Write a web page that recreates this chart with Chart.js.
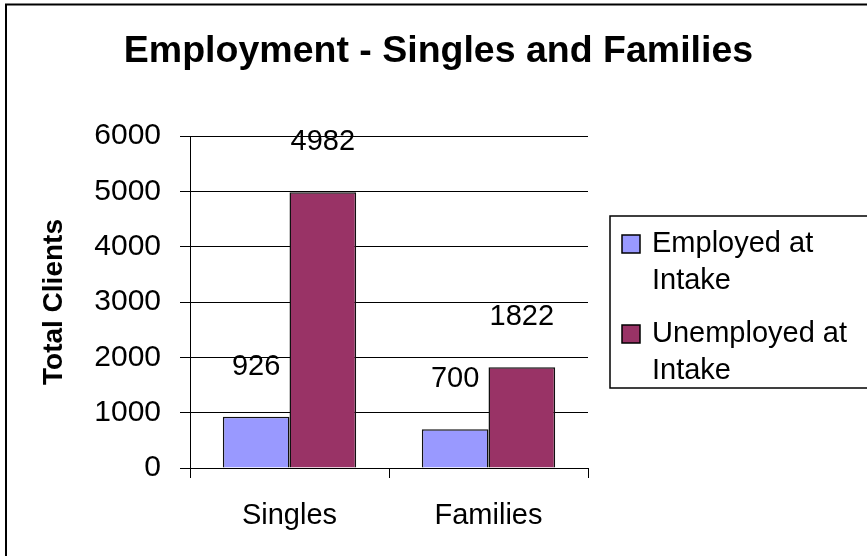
<!DOCTYPE html>
<html>
<head>
<meta charset="utf-8">
<title>Employment - Singles and Families</title>
<script src="https://cdn.jsdelivr.net/npm/chart.js@4.4.0/dist/chart.umd.min.js"></script>
<style>
    html, body { margin: 0; padding: 0; background: #fff; }
    canvas { display: block; }
</style>
</head>
<body>
<canvas id="employmentChart" width="867" height="556"></canvas>
<script>
        // Chart data
        const chartTitle = 'Employment - Singles and Families';
        const categories = ['Singles', 'Families'];
        const employedAtIntake = [926, 700];
        const unemployedAtIntake = [4982, 1822];
        const seriesNames = [['Employed at', 'Intake'], ['Unemployed at', 'Intake']];
        const yTicks = [0, 1000, 2000, 3000, 4000, 5000, 6000];

        const FONT = '"Liberation Sans", Arial, Helvetica, sans-serif';
        Chart.defaults.font.family = FONT;
        Chart.defaults.color = '#000';

        // White background, outer frame and the centred title
        const framePlugin = {
            id: 'frame',
            beforeDraw(chart) {
                const ctx = chart.ctx;
                ctx.save();
                ctx.fillStyle = '#fff';
                ctx.fillRect(0, 0, chart.width, chart.height);
                ctx.strokeStyle = '#000';
                ctx.lineWidth = 2;
                ctx.strokeRect(6, 4.5, chart.width + 20, chart.height + 20);
                ctx.font = 'bold 37.5px ' + FONT;
                ctx.fillStyle = '#000';
                ctx.textAlign = 'center';
                ctx.textBaseline = 'alphabetic';
                ctx.fillText(chartTitle, chart.width / 2 + 5, 62);
                ctx.restore();
            }
        };

        // Value labels floating above each bar
        const valueLabels = {
            id: 'valueLabels',
            afterDatasetsDraw(chart) {
                const ctx = chart.ctx;
                ctx.save();
                ctx.font = '29px ' + FONT;
                ctx.fillStyle = '#000';
                ctx.textAlign = 'center';
                ctx.textBaseline = 'middle';
                chart.data.datasets.forEach((ds, i) => {
                    chart.getDatasetMeta(i).data.forEach((bar, j) => {
                        ctx.fillText(String(ds.data[j]), bar.x, bar.y - 50);
                    });
                });
                ctx.restore();
            }
        };

        // Boxed legend on the right, with wrapped labels
        const sideLegend = {
            id: 'sideLegend',
            afterDraw(chart) {
                const ctx = chart.ctx;
                const area = chart.chartArea;
                const left = area.right + 22;
                const top = area.top + 80;
                ctx.save();
                ctx.strokeStyle = '#000';
                ctx.lineWidth = 1.5;
                ctx.strokeRect(left, top, chart.width, 172);
                ctx.font = '29px ' + FONT;
                ctx.textBaseline = 'middle';
                ctx.textAlign = 'left';
                chart.data.datasets.forEach((ds, i) => {
                    const y = top + 28 + i * 90;
                    ctx.fillStyle = ds.backgroundColor;
                    ctx.fillRect(left + 12, y - 9, 18, 18);
                    ctx.strokeStyle = '#000';
                    ctx.lineWidth = 1.5;
                    ctx.strokeRect(left + 12, y - 9, 18, 18);
                    ctx.fillStyle = '#000';
                    seriesNames[i].forEach((line, k) => {
                        ctx.fillText(line, left + 42, y + k * 37);
                    });
                });
                ctx.restore();
            }
        };

        const ctx = document.getElementById('employmentChart').getContext('2d');
        window.employmentChart = new Chart(ctx, {
            type: 'bar',
            data: {
                labels: categories,
                datasets: [{
                    label: seriesNames[0].join(' '),
                    data: employedAtIntake,
                    backgroundColor: '#9999FF',
                    borderColor: '#111',
                    borderWidth: 1.5
                }, {
                    label: seriesNames[1].join(' '),
                    data: unemployedAtIntake,
                    backgroundColor: '#993366',
                    borderColor: '#111',
                    borderWidth: 1.5
                }]
            },
            options: {
                responsive: false,
                animation: false,
                layout: {
                    padding: { left: 10, right: 279, top: 136, bottom: 0 }
                },
                datasets: {
                    bar: { categoryPercentage: 0.67, barPercentage: 1 }
                },
                scales: {
                    x: {
                        grid: {
                            offset: true,
                            drawOnChartArea: false,
                            color: '#000',
                            tickLength: 10
                        },
                        border: { color: '#000', width: 1 },
                        ticks: { font: { size: 29 }, padding: 21, color: '#000' },
                        afterFit(scale) { scale.height = 88; }
                    },
                    y: {
                        min: yTicks[0],
                        max: yTicks[yTicks.length - 1],
                        grid: { color: '#000', tickLength: 10 },
                        border: { color: '#000', width: 1 },
                        ticks: {
                            stepSize: yTicks[1] - yTicks[0],
                            font: { size: 30 },
                            padding: 19,
                            color: '#000',
                            callback: value => String(value)
                        },
                        title: {
                            display: true,
                            text: 'Total Clients',
                            font: { size: 28, weight: 'bold' },
                            padding: { top: 27, bottom: 0 },
                            color: '#000'
                        },
                        afterFit(scale) { scale.width = 180; }
                    }
                },
                plugins: {
                    legend: { display: false },
                    tooltip: { enabled: false },
                    title: { display: false }
                }
            },
            plugins: [framePlugin, valueLabels, sideLegend]
        });
</script>
</body>
</html>
